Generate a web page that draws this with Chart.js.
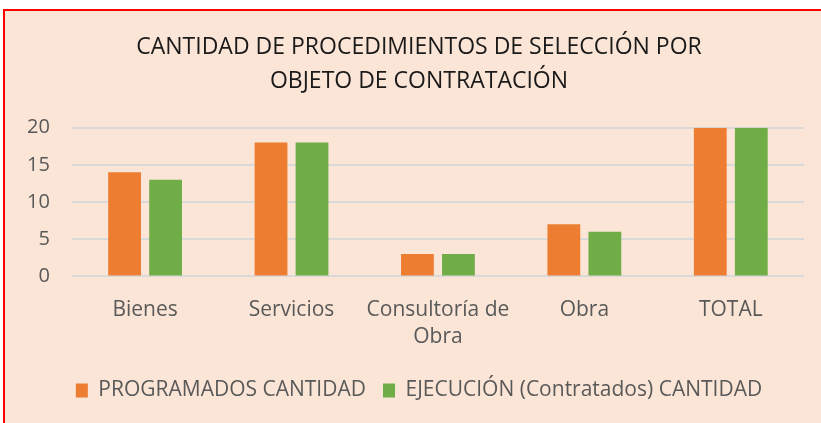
<!DOCTYPE html>
<html>
<head>
<meta charset="utf-8">
<script src="https://cdn.jsdelivr.net/npm/chart.js@4"></script>
<style>
  body { margin: 0; background: #fff; }
  #frame {
    position: absolute; left: 3px; top: 9px;
    width: 840px; height: 430px;
    border: 2px solid #ff0000;
    background: #fbe5d6;
  }
  #wrap { position: absolute; left: 0; top: 0; width: 828px; height: 412px; }
</style>
</head>
<body>
<div id="frame"><div id="wrap"><canvas id="chart"></canvas></div></div>
<script>
// datos del gráfico
const categorias = ['Bienes', 'Servicios', ['Consultoría de', 'Obra'], 'Obra', 'TOTAL'];
const programados = [14, 18, 3, 7, 20];
const ejecucion = [13, 18, 3, 6, 20];
const ticksY = [0, 5, 10, 15, 20];

const fuente = "'Open Sans', sans-serif";

document.addEventListener('DOMContentLoaded', function() {
    const ctx = document.getElementById('chart').getContext('2d');
    new Chart(ctx, {
        type: 'bar',
        data: {
            labels: categorias,
            datasets: [{
                label: 'PROGRAMADOS CANTIDAD',
                data: programados,
                backgroundColor: '#ed7d31',
                barPercentage: 0.8,
                categoryPercentage: 0.56
            }, {
                label: 'EJECUCIÓN (Contratados) CANTIDAD',
                data: ejecucion,
                backgroundColor: '#70ad47',
                barPercentage: 0.8,
                categoryPercentage: 0.56
            }]
        },
        options: {
            responsive: true,
            maintainAspectRatio: false,
            animation: false,
            layout: {
                padding: { left: 0, right: 0, top: 6, bottom: 12 }
            },
            plugins: {
                title: {
                    display: true,
                    text: ['CANTIDAD DE PROCEDIMIENTOS DE SELECCIÓN POR', 'OBJETO DE CONTRATACIÓN'],
                    color: '#1a1a1a',
                    font: { family: fuente, size: 23, weight: 'normal', lineHeight: 1.45 },
                    padding: { top: 14, bottom: 30 }
                },
                legend: {
                    position: 'bottom',
                    labels: {
                        color: '#595959',
                        boxWidth: 12,
                        boxHeight: 14,
                        padding: 17,
                        font: { family: fuente, size: 21 }
                    }
                },
                tooltip: { enabled: false }
            },
            scales: {
                x: {
                    grid: { display: false },
                    border: { display: false },
                    ticks: {
                        color: '#595959',
                        padding: 12,
                        maxRotation: 0,
                        font: { family: fuente, size: 21, lineHeight: 1.3 }
                    }
                },
                y: {
                    min: 0,
                    max: 20,
                    afterBuildTicks: function(axis) {
                        axis.ticks = ticksY.map(v => ({ value: v }));
                    },
                    grid: { color: '#d9d9d9', lineWidth: 2, drawTicks: false },
                    border: { display: false },
                    ticks: {
                        color: '#595959',
                        padding: 22,
                        font: { family: fuente, size: 20 }
                    }
                },
                // eje vacío a la derecha, solo para dejar margen
                margen: {
                    position: 'right',
                    grid: { display: false },
                    border: { display: false },
                    ticks: { display: false },
                    afterFit: function(axis) {
                        axis.width = 29;
                    }
                }
            }
        }
    });
});
</script>
</body>
</html>
